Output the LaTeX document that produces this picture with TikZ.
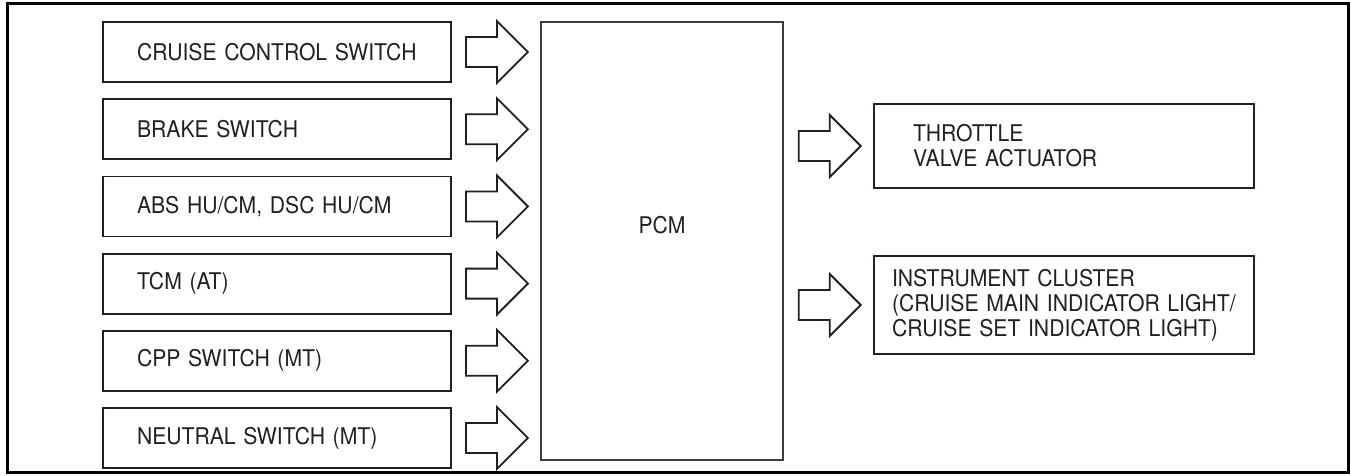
\documentclass[tikz,border=0pt]{standalone}
\usepackage{fontspec}
\setmainfont{TeX Gyre Heros}[FakeStretch=0.92]
\usetikzlibrary{positioning,calc}

\definecolor{inkcolor}   {HTML}{231F20}
\definecolor{framecolor} {HTML}{000000}
\definecolor{pcmborder}  {HTML}{3C3C3C}

\newcommand{\blockfont}{\fontsize{23}{25}\selectfont}
\newcommand{\fatarrow}[1]{%
  \draw[fatline] #1 ++(0,-15) -- ++(31,0) -- ++(0,-16) -- ++(31,31)
    -- ++(-31,31) -- ++(0,-16) -- ++(-31,0) -- cycle;%
}

\tikzset{
  inbox/.style={
    rectangle, draw=inkcolor, line width=1.8pt,
    minimum height=60pt, inner xsep=34pt, inner ysep=0pt,
    text width=280pt, align=left,
    font=\blockfont, text=inkcolor
  },
  outbox/.style={
    rectangle, draw=inkcolor, line width=1.8pt,
    inner ysep=0pt, align=left,
    font=\blockfont, text=inkcolor
  },
  pcmbox/.style={
    rectangle, draw=pcmborder, line width=1.5pt,
    minimum width=242pt, minimum height=438pt
  },
  lbl/.style={font=\blockfont, text=inkcolor, inner sep=0pt},
  fatline/.style={draw=inkcolor, line width=1.8pt, line join=miter}
}

\begin{document}
\begin{tikzpicture}[x=1pt, y=-1pt]
\useasboundingbox (0,0) rectangle (1351,476);
\draw[framecolor, line width=3pt] (7,4) rectangle (1348.5,472.5);

%% inputs
\node[inbox] (in1) at (277,52) {CRUISE CONTROL SWITCH};
\node[inbox, below=15.4pt of in1] (in2) {BRAKE SWITCH};
\node[inbox, below=15.4pt of in2] (in3) {ABS HU/CM, DSC HU/CM};
\node[inbox, below=15.4pt of in3] (in4) {TCM (AT)};
\node[inbox, below=15.4pt of in4] (in5) {CPP SWITCH (MT)};
\node[inbox, below=15.4pt of in5] (in6) {NEUTRAL SWITCH (MT)};

%% control module
\node[pcmbox] (pcm) at (662,241) {};
\node[lbl] (pcmlabel) at ([yshift=16pt]pcm.center) {PCM};

%% outputs
\node[outbox, inner xsep=39pt, text width=302pt, minimum height=84pt]
  (throttle) at (1064,146) {THROTTLE\\VALVE ACTUATOR};
\node[outbox, inner xsep=18pt, text width=344pt, minimum height=98pt]
  (cluster) at (1064,305) {INSTRUMENT CLUSTER\\(CRUISE MAIN INDICATOR LIGHT/\\CRUISE SET INDICATOR LIGHT)};

%% signal arrows
\fatarrow{([xshift=14pt]in1.east)}
\fatarrow{([xshift=14pt]in2.east)}
\fatarrow{([xshift=14pt]in3.east)}
\fatarrow{([xshift=14pt]in4.east)}
\fatarrow{([xshift=14pt]in5.east)}
\fatarrow{([xshift=14pt]in6.east)}
\fatarrow{($(pcm.east |- throttle.west)+(15,0)$)}
\fatarrow{($(pcm.east |- cluster.west)+(15,0)$)}
\end{tikzpicture}
\end{document}
